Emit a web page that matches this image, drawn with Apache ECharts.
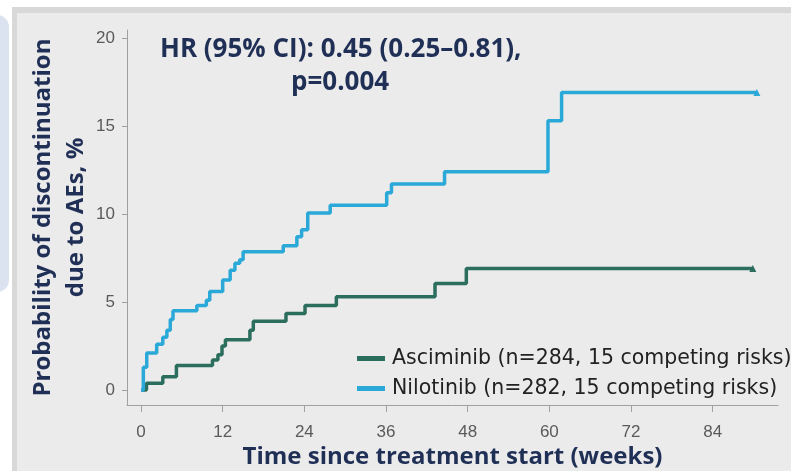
<!DOCTYPE html>
<html>
<head>
<meta charset="utf-8">
<script src="https://cdn.jsdelivr.net/npm/echarts@6/dist/echarts.min.js"></script>
<style>
html,body{margin:0;padding:0;background:#ffffff;}
#c{width:791px;height:471px;}
</style>
</head>
<body>
<div id="c"></div>
<script>
// ---- data ----
const xTicks = [0, 12, 24, 36, 48, 60, 72, 84];
const yTicks = [0, 5, 10, 15, 20];
const seriesNames = ['Asciminib (n=284, 15 competing risks)', 'Nilotinib (n=282, 15 competing risks)'];
const ascX = [0, 0.8, 3.2, 5.2, 10.5, 11.3, 11.9, 12.4, 16.0, 16.5, 21.3, 24.1, 28.7, 43.2, 47.8, 89.9];
const ascY = [0, 0.38, 0.75, 1.4, 1.7, 2.0, 2.5, 2.85, 3.4, 3.9, 4.35, 4.8, 5.3, 6.05, 6.9, 6.9];
const niloX = [0, 0.34, 0.84, 2.3, 3.2, 3.8, 4.3, 4.7, 8.2, 9.6, 10.1, 12.0, 13.1, 13.8, 14.5, 15.0, 20.9, 22.9, 23.6, 24.5, 27.8, 36.1, 36.8, 44.6, 59.8, 61.8, 90.5];
const niloY = [0, 1.3, 2.1, 2.6, 3.0, 3.4, 4.0, 4.5, 4.8, 5.1, 5.6, 6.25, 6.8, 7.2, 7.4, 7.85, 8.2, 8.7, 9.1, 10.05, 10.5, 11.2, 11.7, 12.4, 15.3, 16.9, 16.9];

function pairs(xs, ys) {
  return xs.map((x, i) => {
    const item = { value: [x, ys[i]] };
    if (i === xs.length - 1) { item.symbol = 'triangle'; item.symbolSize = 7; }
    return item;
  });
}

const navy = '#1f2f55';
const chart = echarts.init(document.getElementById('c'));
chart.setOption({
  animation: false,
  backgroundColor: 'transparent',
  graphic: [
    { type: 'rect', shape: { x: -30, y: 15, width: 39, height: 277, r: 12 }, style: { fill: '#dbe3f0' }, z: -10 },
    { type: 'rect', shape: { x: 12, y: 7, width: 800, height: 480 }, style: { fill: '#d8d8d8' }, z: -10 },
    { type: 'rect', shape: { x: 17, y: 13, width: 800, height: 480 }, style: { fill: '#ebebeb' }, z: -9 }
  ],
  title: [
    { text: 'HR (95% CI): 0.45 (0.25\u20130.81),', left: 160, top: 37, padding: 0,
      textStyle: { fontFamily: 'Open Sans', fontWeight: 'bold', fontSize: 26, color: navy } },
    { text: 'p=0.004', left: 291, top: 70, padding: 0,
      textStyle: { fontFamily: 'Open Sans', fontWeight: 'bold', fontSize: 26, color: navy } }
  ],
  grid: { left: 127, right: 13, top: 30, bottom: 66, containLabel: false, outerBoundsMode: 'none' },
  legend: {
    orient: 'vertical', left: 352, top: 343, itemGap: 9,
    itemWidth: 28, itemHeight: 5, icon: 'rect',
    data: seriesNames,
    textStyle: { fontFamily: 'DejaVu Sans', fontSize: 20.5, color: '#222222', padding: [0, 0, 0, 2] }
  },
  xAxis: {
    type: 'value', min: -2.06, max: 93.6,
    splitLine: { show: false },
    axisLine: { onZero: false, lineStyle: { color: '#a0a0a0', width: 1 } },
    axisTick: { show: true, customValues: xTicks, length: 7, lineStyle: { color: '#a0a0a0' } },
    axisLabel: { customValues: xTicks, margin: 19, fontFamily: 'Liberation Sans', fontSize: 17, color: '#5a5a5a' },
    name: 'Time since treatment start (weeks)', nameLocation: 'middle', nameGap: 40, nameMoveOverlap: false,
    nameTextStyle: { fontFamily: 'Open Sans', fontWeight: 'bold', fontSize: 24, color: navy }
  },
  yAxis: {
    type: 'value', min: -0.85, max: 20.45,
    splitLine: { show: false },
    axisLine: { show: true, onZero: false, lineStyle: { color: '#a0a0a0', width: 1 } },
    axisTick: { show: true, customValues: yTicks, length: 5, lineStyle: { color: '#a0a0a0' } },
    axisLabel: { customValues: yTicks, margin: 12, fontFamily: 'Liberation Sans', fontSize: 17, color: '#5a5a5a' },
    name: 'Probability of discontinuation\ndue to AEs, %', nameLocation: 'middle', nameGap: 34, nameMoveOverlap: false,
    nameTextStyle: { fontFamily: 'Open Sans', fontWeight: 'bold', fontSize: 24, color: navy, lineHeight: 33 }
  },
  series: [
    { name: seriesNames[0], type: 'line', step: 'end', data: pairs(ascX, ascY),
      showSymbol: true, symbol: 'none', color: '#2b6e5d', lineStyle: { width: 3.5, color: '#2b6e5d' } },
    { name: seriesNames[1], type: 'line', step: 'end', data: pairs(niloX, niloY),
      showSymbol: true, symbol: 'none', color: '#2aa9d8', lineStyle: { width: 3.5, color: '#2aa9d8' } }
  ]
});
</script>
</body>
</html>
